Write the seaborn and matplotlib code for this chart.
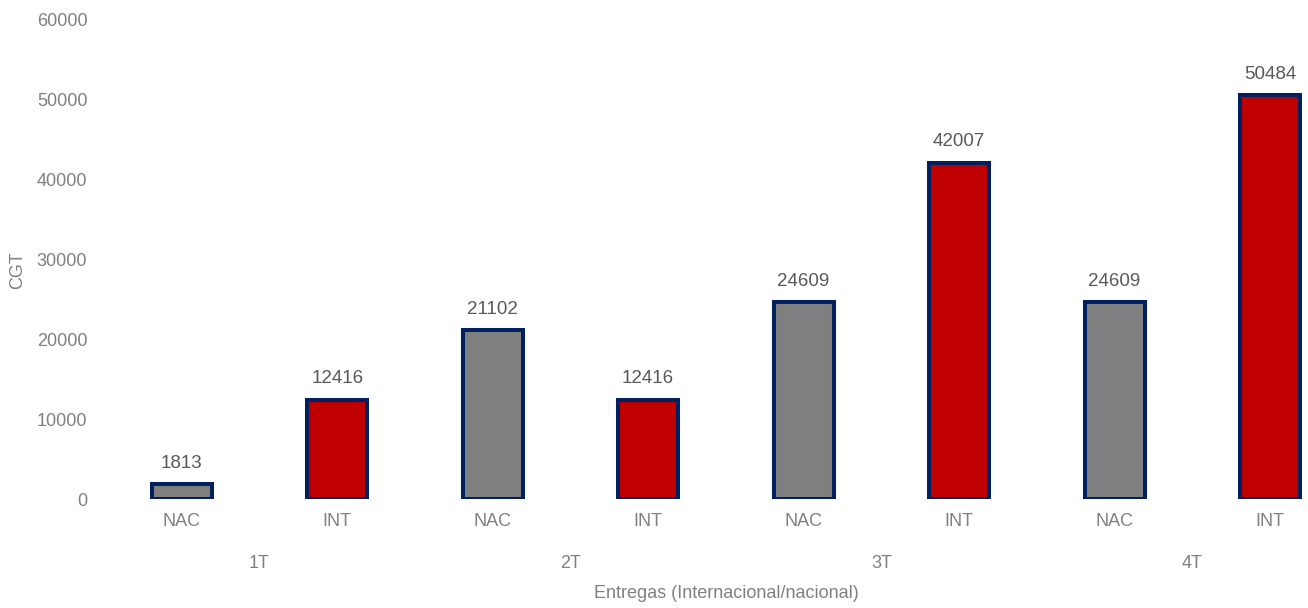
import matplotlib
matplotlib.use("Agg")
import matplotlib.pyplot as plt
import seaborn as sns
import pandas as pd

quarters = ["1T", "1T", "2T", "2T", "3T", "3T", "4T", "4T"]
types = ["NAC", "INT", "NAC", "INT", "NAC", "INT", "NAC", "INT"]
values = [1813, 12416, 21102, 12416, 24609, 42007, 24609, 50484]
group_labels = ["1T", "2T", "3T", "4T"]
y_ticks = [0, 10000, 20000, 30000, 40000, 50000, 60000]

df = pd.DataFrame({
    "id": [f"{q} {t}" for q, t in zip(quarters, types)],
    "tipo": types,
    "CGT": values,
})

sns.set_theme(style="white")
plt.rcParams["font.family"] = ["Liberation Sans", "DejaVu Sans"]

fig = plt.figure(figsize=(13.08, 6.08), dpi=100)
ax = fig.add_axes([104 / 1308, (608 - 499) / 608, (1308 - 104) / 1308, 480 / 608])

sns.barplot(data=df, x="id", y="CGT", hue="tipo", dodge=False,
            palette={"NAC": "#7F7F7F", "INT": "#C00000"}, saturation=1,
            edgecolor="#002060", linewidth=2.9, width=0.386,
            legend=False, ax=ax, order=list(df["id"]))

ax.set_xlim(-0.5, 7 + (1308 - 1270) / 155.4)
ax.set_ylim(0, 60000)
ax.set_yticks(y_ticks)
ax.set_yticklabels([str(v) for v in y_ticks], color="#808080", fontsize=13)
ax.set_xticks(range(len(types)))
ax.set_xticklabels(types, color="#808080", fontsize=13)
ax.tick_params(axis="x", length=0, pad=10)
ax.tick_params(axis="y", length=0, pad=12)
for s in ax.spines.values():
    s.set_visible(False)

for i, v in enumerate(values):
    ax.annotate(str(v), (i, v), xytext=(0, 9), textcoords="offset points",
                ha="center", va="bottom", color="#595959", fontsize=13.5)

for g, lab in enumerate(group_labels):
    ax.text(2 * g + 0.5, -0.135, lab, transform=ax.get_xaxis_transform(),
            ha="center", va="center", color="#808080", fontsize=13)

ax.set_xlabel("")
ax.set_ylabel("")
fig.text(726 / 1308, 1 - 594 / 608, "Entregas (Internacional/nacional)",
         ha="center", va="center", color="#808080", fontsize=13)
fig.text(18 / 1308, 1 - 270 / 608, "CGT", rotation=90,
         ha="center", va="center", color="#808080", fontsize=13)

fig.savefig("out.png", dpi=100)
